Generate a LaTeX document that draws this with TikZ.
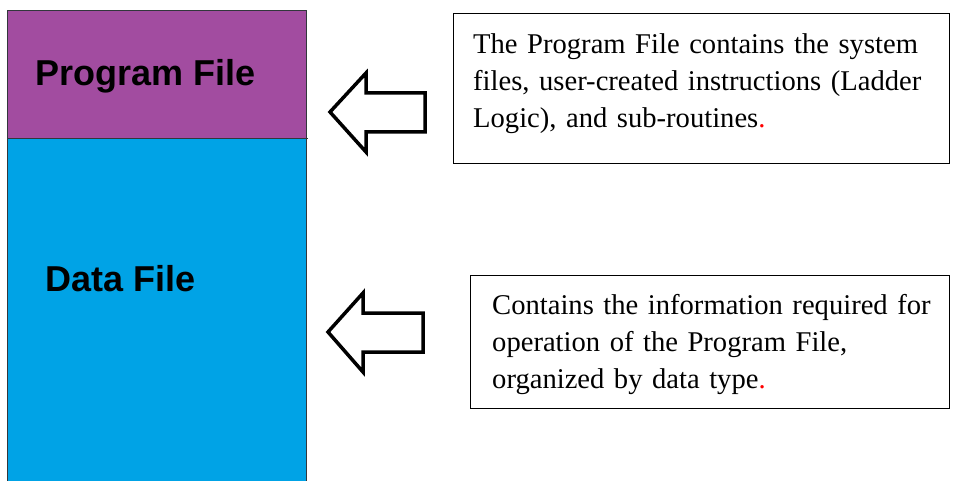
\documentclass[tikz,border=0pt]{standalone}
\usepackage{fontspec}
\setmainfont{Liberation Serif}
\newfontfamily\labelfont{Liberation Sans}
\definecolor{progpurple}{RGB}{162,76,160}
\definecolor{datablue}{RGB}{0,163,230}
\definecolor{edgegray}{RGB}{50,55,60}
\tikzset{
  infobox/.style={draw=black, line width=1.3pt, anchor=north west, inner sep=0pt},
  infotext/.style={anchor=north west, inner sep=0pt, align=left, text width=470pt,
    font=\fontsize{28.6}{37}\selectfont},
  filelabel/.style={anchor=base west, inner sep=0pt, font=\labelfont\bfseries\fontsize{36}{40}\selectfont},
  blockarrow/.style={draw=black, fill=white, line width=3.5pt, line join=miter}
}
\begin{document}
\begin{tikzpicture}[x=1pt, y=-1pt, line cap=butt]
  \def\xl{7} \def\xr{306} % file stack
  \def\yt{11} \def\ysplit{139} \def\yb{481}
  \useasboundingbox (0,0) rectangle (955,481);
  % file stack
  \fill[progpurple] (\xl,\yt) rectangle (\xr,\ysplit);
  \fill[datablue] (\xl,\ysplit) rectangle (\xr,\yb);
  \draw[edgegray, line width=1pt] (\xl,\yb) -- (\xl,\yt) -- (\xr,\yt) -- (\xr,\yb);
  \draw[edgegray, line width=1pt] (\xl,\ysplit) -- (308,\ysplit);
  \node[filelabel] (proglabel) at (35,86) {Program File};
  \node[filelabel] (datalabel) at (45,291) {Data File};
  % arrows
  \draw[blockarrow] (330,112) -- (366,73) -- (366,93) -- (425,93) -- (425,132) -- (366,132) -- (366,152) -- cycle;
  \draw[blockarrow] (328,332) -- (363,293) -- (363,313) -- (423,313) -- (423,352) -- (363,352) -- (363,372) -- cycle;
  % text boxes
  \node[infobox, minimum width=496, minimum height=150] (progbox) at (453,13) {};
  \node[infotext] (progtext) at (473,33) {The Program File contains the system\\
    files, user-created instructions (Ladder\\
    Logic), and sub-routines\textcolor{red}{.}};
  \node[infobox, minimum width=479, minimum height=133] (databox) at (470,275) {};
  \node[infotext] (datatext) at (492,294) {Contains the information required for\\
    operation of the Program File,\\
    organized by data type\textcolor{red}{.}};
\end{tikzpicture}
\end{document}
